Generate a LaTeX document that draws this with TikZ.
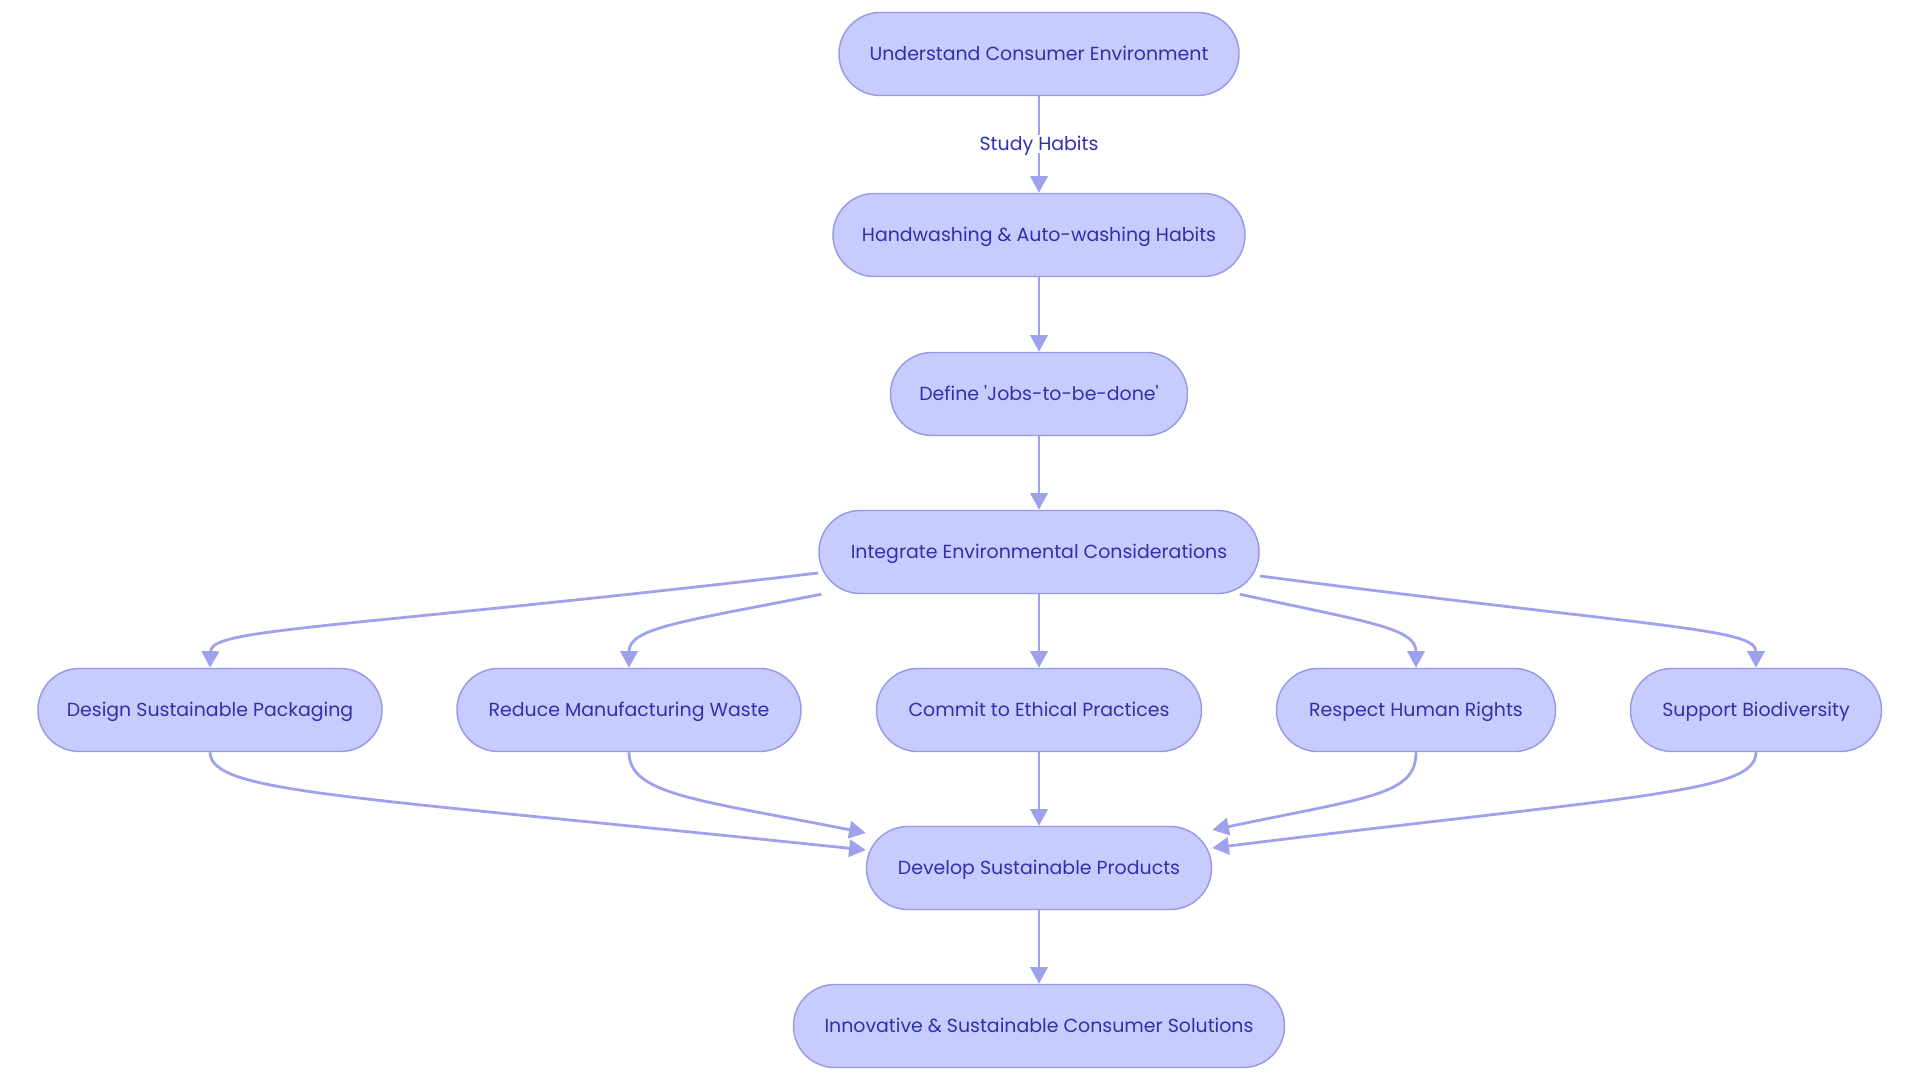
\documentclass[tikz,border=0pt]{standalone}
\usepackage{fontspec}
\setmainfont{Poppins}
\usetikzlibrary{arrows.meta,calc}

\definecolor{stadiumfill}{RGB}{200,203,253}
\definecolor{stadiumdraw}{RGB}{150,155,232}
\definecolor{flowline}{RGB}{158,162,236}
\definecolor{labeltext}{RGB}{45,49,172}

\tikzset{every picture/.style={line width=0.75pt}}
\tikzset{
  stadium/.style={draw=stadiumdraw, fill=stadiumfill, line width=1.1pt, rounded corners=31pt,
    minimum height=62.25pt, inner xsep=0pt, text height=0.95em, text depth=0pt,
    text=labeltext, font=\fontsize{14.2}{17}\selectfont},
  flow/.style={draw=flowline, line width=2.1pt, -{Triangle[length=12.5pt,width=13pt]}},
  flowtext/.style={fill=white, inner xsep=1.5pt, inner ysep=2pt, text height=0.95em, text depth=0pt,
    text=labeltext, font=\fontsize{14.2}{17}\selectfont}
}

\begin{document}
\begin{tikzpicture}[x=0.75pt,y=0.75pt,yscale=-1,xscale=1]
		\useasboundingbox (0,0) rectangle (1920,1080);

		%Shape: Stadium [id:understand]
		\node [stadium, minimum width=300pt] (understand) at (1039,54) {Understand Consumer Environment};
		%Shape: Stadium [id:hand]
		\node [stadium, minimum width=309pt] (hand) at (1039,235) {Handwashing \& Auto-washing Habits};
		%Shape: Stadium [id:define]
		\node [stadium, minimum width=222.75pt] (define) at (1039,394) {Define \textquotesingle Jobs-to-be-done\textquotesingle};
		%Shape: Stadium [id:integ]
		\node [stadium, minimum width=330pt] (integ) at (1039,552) {Integrate Environmental Considerations};
		%Shape: Stadium [id:design]
		\node [stadium, minimum width=258pt] (design) at (210,710) {Design Sustainable Packaging};
		%Shape: Stadium [id:reduce]
		\node [stadium, minimum width=258pt] (reduce) at (629,710) {Reduce Manufacturing Waste};
		%Shape: Stadium [id:commit]
		\node [stadium, minimum width=243.75pt] (commit) at (1039,710) {Commit to Ethical Practices};
		%Shape: Stadium [id:respect]
		\node [stadium, minimum width=209.25pt] (respect) at (1416,710) {Respect Human Rights};
		%Shape: Stadium [id:support]
		\node [stadium, minimum width=188.25pt] (support) at (1756,710) {Support Biodiversity};
		%Shape: Stadium [id:develop]
		\node [stadium, minimum width=258.75pt] (develop) at (1039,868) {Develop Sustainable Products};
		%Shape: Stadium [id:innov]
		\node [stadium, minimum width=368.25pt] (innov) at (1039,1026) {Innovative \& Sustainable Consumer Solutions};

		%Straight Lines
		\draw [flow] (understand) -- (hand) node [flowtext, pos=0.5] (studylabel) {Study Habits};
		\draw [flow] (hand) -- (define);
		\draw [flow] (define) -- (integ);
		\draw [flow] (integ) -- (commit);
		\draw [flow] (commit) -- (develop);
		\draw [flow] (develop) -- (innov);

		%Curve Lines
		\draw [flow] ($(integ.west)+(0,21)$) .. controls (330,630) and (211,628) .. (design.north);
		\draw [flow] ($(integ.south west)+(3,0)$) .. controls (680,622) and (629,628) .. (reduce.north);
		\draw [flow] ($(integ.south east)+(-20,0)$) .. controls (1368,622) and (1416,628) .. (respect.north);
		\draw [flow] ($(integ.east)+(0,24)$) .. controls (1660,628) and (1756,628) .. (support.north);

		%Curve Lines
		\draw [flow] (design.south) .. controls (211,793) and (340,795) .. ($(develop.west)+(0,-18)$);
		\draw [flow] (reduce.south) .. controls (629,795) and (700,800) .. ($(develop.west)+(0,-35)$);
		\draw [flow] (respect.south) .. controls (1416,795) and (1370,797) .. ($(develop.east)+(0,-38)$);
		\draw [flow] (support.south) .. controls (1756,793) and (1640,795) .. ($(develop.east)+(0,-20)$);

	\end{tikzpicture}
\end{document}
